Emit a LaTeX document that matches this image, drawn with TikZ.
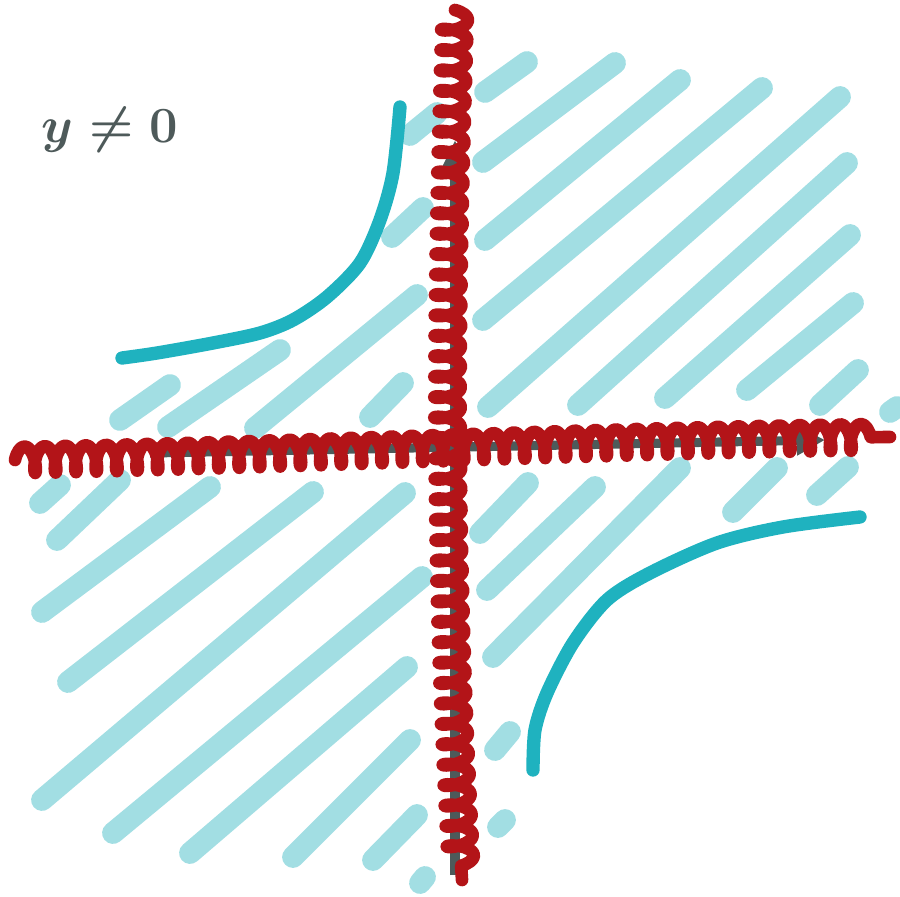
\documentclass[tikz,border=0pt]{standalone}
\usetikzlibrary{decorations.pathmorphing,arrows.meta}
\definecolor{hatchC}{HTML}{A2DEE3}
\definecolor{tealC}{HTML}{1FB2BF}
\definecolor{redC}{HTML}{B31418}
\definecolor{axisG}{HTML}{4E5A5A}
\begin{document}
\begin{tikzpicture}[x=0.01cm,y=-0.01cm,
			hatch/.style={hatchC,line width=6.2pt,line cap=round},
			branch/.style={tealC,line width=3.8pt,line cap=round,line join=round},
			axisline/.style={axisG,line width=2.6pt},
			coilred/.style={redC,line width=3.6pt,line cap=round,line join=round,decorate,
				decoration={coil,aspect=0.35,amplitude=3.8pt,segment length=5.8pt}}
			]
			\useasboundingbox (0,0) rectangle (900,897);
			% hatching of the plane
			\foreach \xa/\ya/\xb/\yb in {
				485/92/527/62, 483/162/615/63, 485/240/680/80, 483/320/762/88,
				488/407/840/97, 578/405/847/163, 665/398/850/235, 747/390/853/303,
				820/405/858/370, 890/412/897/407,
				410/135/437/113, 392/237/423/208, 120/420/170/385, 168/427/280/350,
				255/428/417/295, 370/417/403/383,
				40/503/60/485, 57/540/120/480, 42/612/210/487, 68/682/313/492,
				42/800/405/493, 113/833/422/577, 190/853/407/667, 293/857/410/740,
				373/860/417/815, 420/883/425/877,
				480/533/528/483, 487/590/595/487, 493/657/680/468, 495/750/510/732,
				498/827/505/820, 733/512/777/468, 817/495/848/467
			}{
				\draw[hatch] (\xa,\ya) -- (\xb,\yb);
			}
			% axes
			\draw[axisline,-{Triangle[length=8pt,width=7pt]}] (455,875) -- (455,140);
			\draw[axisline,-{Triangle[open,length=8pt,width=8pt,line width=2.2pt]}] (150,453) -- (825,440);
			% hyperbola branches
			\draw[branch] plot[smooth] coordinates {(122,358) (157,353) (213,343) (260,333) (293,320)
				(327,297) (360,263) (380,220) (393,173) (400,107)};
			\draw[branch] plot[smooth] coordinates {(533,770) (535,730) (547,693) (573,643) (607,600)
				(650,573) (717,543) (783,527) (860,517)};
			% crossed-out axes
			\draw[coilred] (455,10) .. controls (448,250) and (440,500) .. (462,880);
			\draw[coilred] (15,460) .. controls (300,455) and (600,440) .. (890,437);
			% condition
			\node[text=axisG,font={\fontsize{15}{18}\selectfont\boldmath}] (cond) at (110,130) {$y \neq 0$};
		\end{tikzpicture}
\end{document}
